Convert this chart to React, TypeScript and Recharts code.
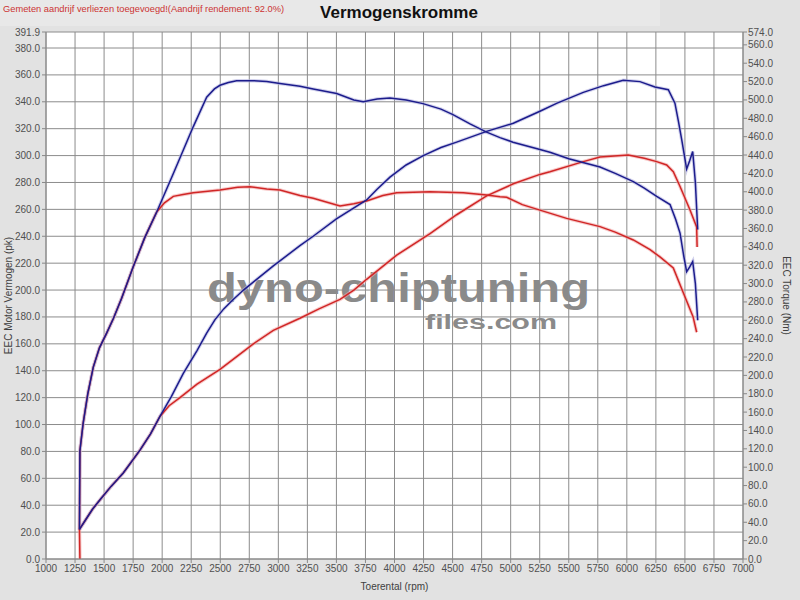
import React from 'react';
import { LineChart, Line, XAxis, YAxis, CartesianGrid } from 'recharts';

// tick labels
const rpmTicks = [1000, 1250, 1500, 1750, 2000, 2250, 2500, 2750, 3000, 3250, 3500, 3750, 4000, 4250, 4500, 4750, 5000, 5250, 5500, 5750, 6000, 6250, 6500, 6750, 7000];
const pkTicks = [0, 20, 40, 60, 80, 100, 120, 140, 160, 180, 200, 220, 240, 260, 280, 300, 320, 340, 360, 380, 391.9];
const nmTicks = [0, 20, 40, 60, 80, 100, 120, 140, 160, 180, 200, 220, 240, 260, 280, 300, 320, 340, 360, 380, 400, 420, 440, 460, 480, 500, 520, 540, 560, 574];

// tuned power (pk), blue
const tunedPowerRpm = [1288, 1340, 1400, 1465, 1560, 1665, 1809, 1900, 1981, 2080, 2182, 2300, 2383, 2455, 2530, 2612, 2700, 2800, 2957, 3186, 3300, 3500, 3760, 3850, 3961, 4100, 4248, 4400, 4535, 4793, 5023, 5252, 5400, 5625, 5800, 5969, 6113, 6242, 6357, 6414, 6445, 6472, 6515, 6540, 6567, 6590, 6610];
const tunedPowerPk = [22, 29, 37, 44, 54, 64, 81, 93, 106, 121, 138, 155, 168, 178, 186, 193, 200, 207, 218, 233, 240, 253, 267, 275, 284, 293, 300, 306, 310, 318, 324, 333, 339, 347, 352, 356, 355, 351, 349, 339, 325, 312, 290, 296, 303, 280, 245];

// stock power (pk), red
const stockPowerRpm = [1292, 1288, 1340, 1400, 1465, 1560, 1665, 1809, 1900, 1981, 2060, 2153, 2300, 2498, 2650, 2785, 2957, 3186, 3350, 3531, 3650, 3760, 4019, 4306, 4535, 4793, 5023, 5252, 5338, 5625, 5769, 6012, 6150, 6257, 6343, 6400, 6458, 6544, 6601, 6605];
const stockPowerPk = [0, 22, 29, 37, 44, 54, 64, 81, 93, 106, 114, 120, 130, 141, 151, 160, 170, 179, 186, 193, 200, 208, 226, 242, 256, 270, 279, 286, 288, 295.5, 299, 300.5, 298, 295.5, 293, 288, 277, 259.5, 247, 232];

// tuned torque (Nm), blue
const tunedTorqueRpm = [1288, 1292, 1320, 1360, 1407, 1460, 1522, 1580, 1651, 1750, 1850, 1953, 2100, 2268, 2383, 2450, 2498, 2570, 2641, 2785, 2900, 3014, 3186, 3300, 3502, 3650, 3731, 3850, 3961, 4100, 4245, 4400, 4503, 4650, 4793, 4908, 5020, 5252, 5338, 5500, 5769, 5900, 6056, 6150, 6257, 6372, 6420, 6458, 6490, 6515, 6540, 6567, 6590, 6610];
const tunedTorqueNm = [32, 118, 148, 180, 209, 230, 246, 262, 284, 318, 350, 378, 421, 471, 503, 512, 516, 519, 521, 521, 520, 518, 515, 512, 507, 500, 498, 501, 502, 500, 496, 490, 484, 474, 465, 459, 454, 446, 443, 436, 427, 420, 411, 404, 395, 386, 370, 355, 330, 313, 318, 324, 300, 260];

// stock torque (Nm), red
const stockTorqueRpm = [1288, 1292, 1320, 1360, 1407, 1460, 1522, 1580, 1651, 1750, 1850, 1953, 2020, 2096, 2180, 2268, 2498, 2650, 2756, 2900, 3014, 3186, 3300, 3531, 3650, 3760, 3900, 4019, 4306, 4593, 4793, 4908, 4966, 5100, 5252, 5482, 5769, 5900, 6056, 6200, 6285, 6400, 6486, 6570, 6601];
const stockTorqueNm = [32, 118, 148, 180, 209, 230, 246, 262, 284, 318, 350, 378, 388, 395, 397, 399, 402, 405, 405.5, 403, 402, 396, 393, 384.5, 387, 390, 396, 399, 400, 399, 396.5, 394.6, 394, 386, 380, 371, 362, 356, 347.5, 337, 329, 317, 290, 264, 247];

const toPoints = (rpm: number[], vals: number[]) => rpm.map((r, i) => ({ rpm: r, v: vals[i] }));

const BLUE = '#1c1c8c';
const RED = '#d02626';
const FONT = '"Liberation Sans", Arial, sans-serif';

const series = [
  { key: 'stockTorque', axis: 'right', color: RED, halo: '#f2a6a6', data: toPoints(stockTorqueRpm, stockTorqueNm) },
  { key: 'stockPower', axis: 'left', color: RED, halo: '#f2a6a6', data: toPoints(stockPowerRpm, stockPowerPk) },
  { key: 'tunedTorque', axis: 'right', color: BLUE, halo: '#b4b4e0', data: toPoints(tunedTorqueRpm, tunedTorqueNm) },
  { key: 'tunedPower', axis: 'left', color: BLUE, halo: '#b4b4e0', data: toPoints(tunedPowerRpm, tunedPowerPk) },
];

const tickStyle = { fontSize: 10, fill: '#505050', fontFamily: FONT };

export default function App() {
  return (
    <div style={{ position: 'absolute', left: 0, top: 0, width: 800, height: 600, background: '#e2e2e2', fontFamily: FONT, overflow: 'hidden' }}>
      <div style={{ position: 'absolute', left: 0, top: 0, width: 660, height: 26, background: '#e8e8e8' }} />
      <div style={{ position: 'absolute', left: 3, top: 4, fontSize: 9.3, color: '#cc3333', whiteSpace: 'nowrap' }}>
        Gemeten aandrijf verliezen toegevoegd!(Aandrijf rendement: 92.0%)
      </div>
      <div style={{ position: 'absolute', left: 0, top: 3, width: 798, textAlign: 'center', fontSize: 17, fontWeight: 'bold', color: '#111' }}>
        Vermogenskromme
      </div>
      {/* plot background + watermark sit behind the transparent chart */}
      <div style={{ position: 'absolute', left: 46, top: 32, width: 697, height: 527, background: '#fff' }} />
      <svg width={800} height={600} style={{ position: 'absolute', left: 0, top: 0 }}>
        <text x={207} y={302} fontSize={41} fontWeight="bold" fill="#8a8a8a" fontFamily={FONT} textLength={383} lengthAdjust="spacingAndGlyphs">
          dyno-chiptuning
        </text>
        <text x={425} y={329} fontSize={20} fontWeight="bold" fill="#8a8a8a" fontFamily={FONT} textLength={132} lengthAdjust="spacingAndGlyphs">
          files.com
        </text>
      </svg>
      <div style={{ position: 'absolute', left: 0, top: 0 }}>
        <LineChart width={800} height={600} margin={{ top: 32, right: 0, bottom: 0, left: 0 }}>
          <CartesianGrid yAxisId="left" stroke="#8c8c8c" strokeWidth={1} />
          <XAxis
            dataKey="rpm"
            type="number"
            domain={[1000, 7000]}
            ticks={rpmTicks}
            interval={0}
            allowDataOverflow
            height={41}
            tick={tickStyle}
            tickSize={4}
            tickMargin={2}
            tickLine={{ stroke: '#888' }}
            axisLine={{ stroke: '#888' }}
            label={{ value: 'Toerental (rpm)', position: 'insideBottom', offset: 10, style: { fontSize: 10, fill: '#404040', fontFamily: FONT } }}
          />
          <YAxis
            yAxisId="left"
            type="number"
            domain={[0, 391.9]}
            ticks={pkTicks}
            interval={0}
            allowDataOverflow
            width={46}
            tick={tickStyle}
            tickSize={4}
            tickMargin={2}
            tickLine={{ stroke: '#888' }}
            axisLine={{ stroke: '#888' }}
            tickFormatter={(v: number) => v.toFixed(1)}
            label={{ value: 'EEC Motor Vermogen (pk)', angle: -90, position: 'insideLeft', offset: 8, style: { fontSize: 10, fill: '#404040', fontFamily: FONT, textAnchor: 'middle' } }}
          />
          <YAxis
            yAxisId="right"
            orientation="right"
            type="number"
            domain={[0, 574]}
            ticks={nmTicks}
            interval={0}
            allowDataOverflow
            width={57}
            tick={tickStyle}
            tickSize={4}
            tickMargin={1}
            tickLine={{ stroke: '#888' }}
            axisLine={{ stroke: '#888' }}
            tickFormatter={(v: number) => v.toFixed(1)}
            label={{ value: 'EEC Torque (Nm)', angle: 90, position: 'insideRight', offset: 13, style: { fontSize: 10, fill: '#404040', fontFamily: FONT, textAnchor: 'middle' } }}
          />
          {series.map((s) => (
            <Line
              key={s.key + '-halo'}
              data={s.data}
              dataKey="v"
              yAxisId={s.axis}
              type="linear"
              dot={false}
              activeDot={false}
              stroke={s.halo}
              strokeWidth={3.5}
              strokeOpacity={0.6}
              isAnimationActive={false}
            />
          ))}
          {series.map((s) => (
            <Line
              key={s.key}
              data={s.data}
              dataKey="v"
              yAxisId={s.axis}
              type="linear"
              dot={false}
              activeDot={false}
              stroke={s.color}
              strokeWidth={1.5}
              isAnimationActive={false}
            />
          ))}
        </LineChart>
      </div>
    </div>
  );
}
